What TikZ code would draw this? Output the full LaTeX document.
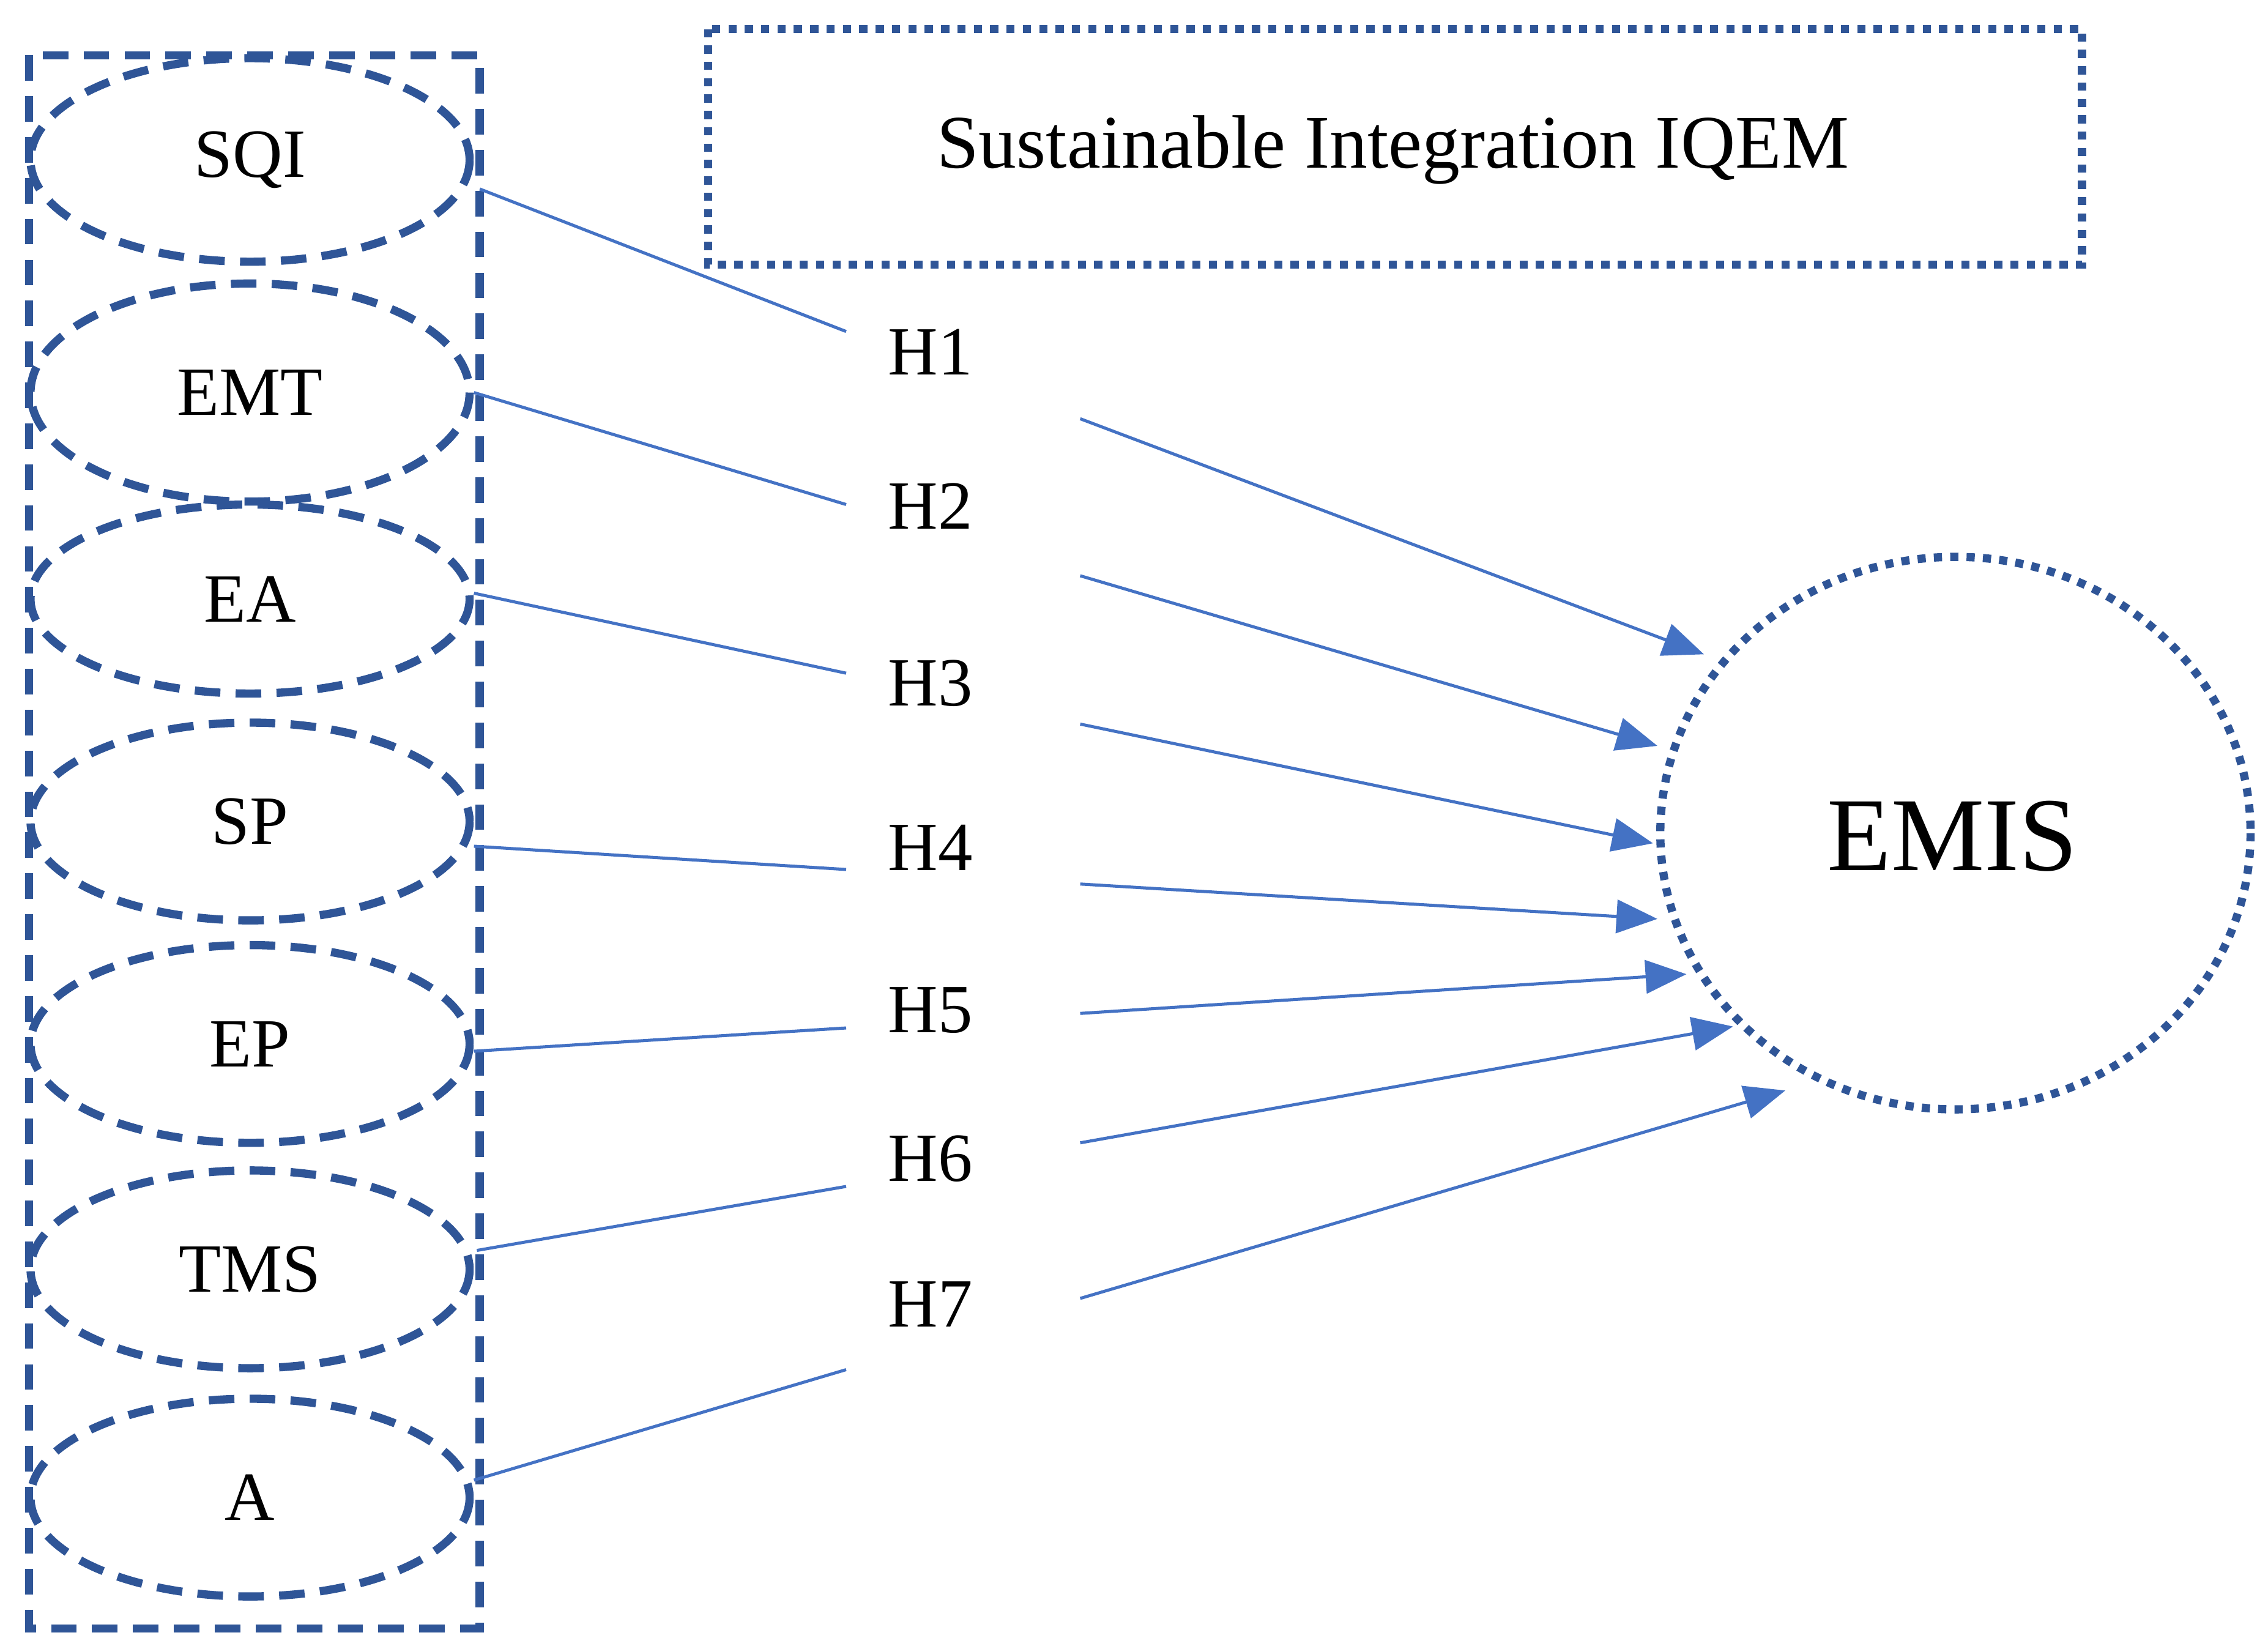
\documentclass[tikz,border=0pt]{standalone}
\usepackage{fontspec}
\setmainfont{Liberation Serif}
\usetikzlibrary{arrows.meta}
\definecolor{dk}{HTML}{2F5597}
\definecolor{ln}{HTML}{4472C4}
\begin{document}
\begin{tikzpicture}[x=0.01cm,y=-0.01cm,
 hl/.style={font=\fontsize{13.5}{15}\selectfont},
 cn/.style={draw=ln,line width=0.6pt},
 ar/.style={draw=ln,line width=0.6pt,-{Triangle[length=8pt,width=6.5pt]}}]
\useasboundingbox (0,0) rectangle (1560,1134);
\draw[dk,line width=1.6pt,dash pattern=on 5pt off 3pt] (20,38) rectangle (330,1120);
\draw[dk,line width=1.6pt,dash pattern=on 1.6pt off 1.6pt] (487,20) rectangle (1432,182);
\node[font=\fontsize{14.8}{18}\selectfont] (title) at (958,103) {Sustainable Integration IQEM};
\foreach \n/\t/\y/\ry in {sqi/SQI/110/70, emt/EMT/270/75, ea/EA/412/65, sp/SP/565/68, ep/EP/718/68, tms/TMS/873/68, a/A/1030/68}{
 \draw[dk,line width=1.6pt,dash pattern=on 5pt off 3pt] (172,\y) ellipse [x radius=151,y radius=\ry];
 \node[hl] (\n) at (172,\y) {\t};
}
\draw[dk,line width=1.6pt,dash pattern=on 1.6pt off 1.6pt] (1345,573) ellipse [x radius=203,y radius=190];
\node[font=\fontsize{20.5}{24}\selectfont] (emis) at (1343,575) {EMIS};
\foreach \i/\y in {1/242,2/348,3/470,4/583,5/695,6/797,7/897}{\node[hl] (h\i) at (640,\y) {H\i};}
\foreach \i/\ax/\ay/\bx/\by in {1/330/130/582/228, 2/326/270/582/347, 3/326/408/582/463, 4/326/582/582/598, 5/326/723/582/707, 6/328/860/582/816, 7/326/1018/582/942}{
 \coordinate (s\i) at (\ax,\ay); \coordinate (e\i) at (\bx,\by);
 \draw[cn] (s\i) -- (e\i);}
\foreach \i/\ax/\ay/\bx/\by in {1/743/288/1172/450, 2/743/396/1140/513, 3/743/498/1137/580, 4/743/608/1140/632, 5/743/697/1160/670, 6/743/786/1192/706, 7/743/893/1228/750}{
 \coordinate (p\i) at (\ax,\ay); \coordinate (q\i) at (\bx,\by);
 \draw[ar] (p\i) -- (q\i);}
\end{tikzpicture}
\end{document}
